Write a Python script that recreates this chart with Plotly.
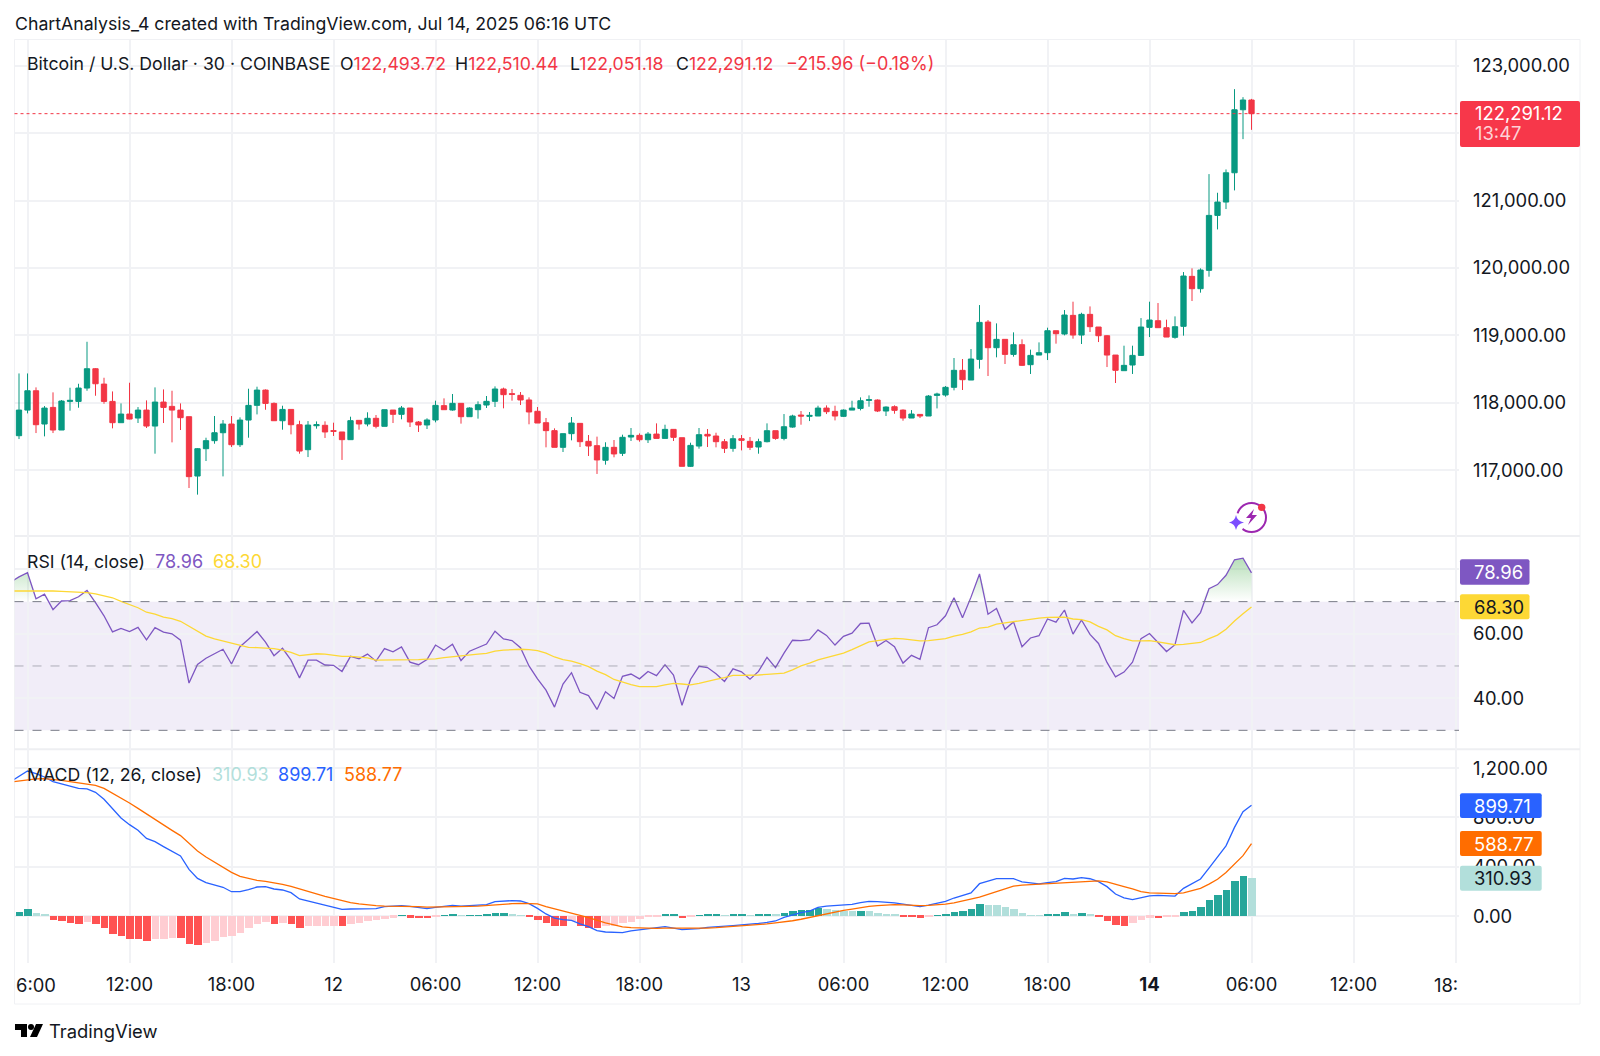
import pandas as pd
import plotly.graph_objects as go

# 30 minute BTCUSD bars, 2025-07-11 05:30 to 2025-07-14 06:00
candle_open = [
    117511, 117891, 118178, 117684, 117931, 117595, 118020, 118020, 118218, 118505, 118277, 118020, 117704, 117832, 117773, 117891, 117654, 118010, 117946, 117891,
    117793, 116912, 117318, 117437, 117555, 117684, 117377, 117743, 117961, 118188, 117990, 117733, 117901, 117674, 117303, 117659,
    117665, 117586, 117566, 117452, 117739, 117685, 117769, 117650, 117892, 117828, 117922, 117714, 117670, 117744, 117957, 117892, 117991, 117793, 117897, 117966, 118021, 118204, 118135, 118110, 118041, 117873, 117704, 117586, 117338, 117541, 117694, 117427, 117363, 117146, 117338, 117249,
    117491, 117516, 117451, 117535, 117471, 117605, 117481, 117056, 117357, 117531, 117506, 117422, 117323, 117466, 117427, 117343, 117422, 117585, 117471, 117639, 117817, 117798, 117803, 117921, 117872, 117798, 117891, 117916, 118035, 118040, 117877, 117941, 117891, 117773, 117827, 117803, 118109,
    118115, 118229, 118481, 118337, 118644, 119198, 118817, 118941, 118718, 118862, 118565, 118708, 118743, 119069, 119020, 119297, 119005, 119312, 119124, 118995, 118708, 118476, 118560, 118703, 119119, 119218, 119114, 118971,
    119134, 119876, 119693, 119965, 120781, 120979, 121414, 122349, 122493.72,
]
candle_high = [
    118435, 118435, 118228, 117951, 118154, 118040, 118223, 118282, 118905, 118515, 118371, 118168, 117990, 118297, 117936, 118035, 118228, 118198, 118178, 117990,
    117793, 117328, 117481, 117803, 117743, 117803, 117783, 118208, 118238, 118198, 118005, 117956, 117901, 117733, 117728, 117723,
    117724, 117704, 117566, 117793, 117739, 117858, 117818, 117897, 117892, 117952, 117922, 117729, 117769, 118031, 118065, 118130, 117991, 117932, 118021, 118100, 118243, 118224, 118204, 118159, 118080, 117937, 117774, 117620, 117541, 117788, 117694, 117521, 117497, 117413, 117447, 117526,
    117625, 117545, 117565, 117694, 117674, 117605, 117481, 117407, 117625, 117610, 117555, 117461, 117521, 117521, 117491, 117466, 117694, 117585, 117832, 117822, 117877, 117862, 117956, 117961, 117956, 117901, 118030, 118080, 118109, 118050, 117946, 117961, 117901, 117891, 117832, 118114, 118149,
    118248, 118664, 118649, 118797, 119450, 119228, 119178, 118941, 119045, 118941, 118788, 118896, 119114, 119069, 119376, 119500, 119336, 119430, 119124, 119005, 118708, 118847, 118847, 119257, 119500, 119480, 119233, 119282,
    119940, 119995, 119995, 121394, 121117, 121463, 122655, 122536, 122510.44,
]
candle_low = [
    117461, 117842, 117550, 117501, 117550, 117595, 117882, 117926, 118178, 118104, 117985, 117620, 117704, 117753, 117699, 117625, 117244, 117699, 117412, 117595,
    116734, 116636, 117135, 117392, 116907, 117343, 117343, 117481, 117827, 117896, 117733, 117600, 117531, 117244, 117194, 117615,
    117477, 117507, 117151, 117452, 117600, 117650, 117620, 117650, 117699, 117754, 117640, 117566, 117610, 117709, 117897, 117882, 117690, 117793, 117764, 117922, 117937, 117917, 118031, 117966, 117680, 117699, 117338, 117338, 117269, 117442, 117343, 117210, 116943, 117081, 117190, 117210,
    117432, 117422, 117402, 117471, 117471, 117432, 117056, 117046, 117318, 117343, 117338, 117254, 117273, 117293, 117298, 117244, 117412, 117451, 117442, 117629, 117674, 117728, 117803, 117832, 117738, 117788, 117891, 117887, 117941, 117862, 117803, 117837, 117733, 117773, 117773, 117803, 117916,
    118090, 118184, 118189, 118337, 118506, 118397, 118674, 118575, 118684, 118545, 118427, 118708, 118634, 118877, 119000, 118951, 118872, 119050, 118901, 118530, 118293, 118476, 118427, 118694, 118975, 119114, 118975, 118951,
    118996, 119510, 119634, 119871, 120573, 120875, 121152, 121913, 122051.18,
]
candle_close = [
    117891, 118178, 117674, 117921, 117595, 118025, 118035, 118218, 118505, 118282, 118020, 117704, 117832, 117758, 117891, 117654, 118010, 117931, 117891, 117778,
    116903, 117318, 117437, 117555, 117684, 117377, 117743, 117961, 118188, 117990, 117733, 117901, 117674, 117283, 117669, 117674,
    117566, 117576, 117452, 117734, 117685, 117769, 117650, 117897, 117828, 117922, 117714, 117670, 117744, 117961, 117897, 117991, 117793, 117922, 117971, 118021, 118204, 118120, 118125, 118041, 117863, 117699, 117586, 117338, 117541, 117699, 117422, 117358, 117151, 117338, 117240, 117487,
    117516, 117451, 117535, 117471, 117605, 117486, 117056, 117367, 117526, 117506, 117422, 117323, 117466, 117442, 117338, 117422, 117585, 117471, 117644, 117803, 117803, 117812, 117921, 117867, 117803, 117891, 117921, 118030, 118045, 117877, 117936, 117887, 117773, 117832, 117803, 118099, 118129,
    118229, 118481, 118342, 118649, 119193, 118817, 118941, 118718, 118862, 118555, 118703, 118743, 119069, 119025, 119302, 119005, 119312, 119129, 118995, 118708, 118481, 118555, 118703, 119124, 119228, 119114, 118975, 119129,
    119881, 119693, 119970, 120781, 120979, 121414, 122349, 122494, 122291.12,
]

# indicators start one bar earlier (05:00), that bar sits just off the left edge
rsi = [
    76.1, 77.7, 79.0, 70.9, 72.3, 67.5, 70.2, 70.3, 71.5, 73.5, 69.7, 65.6, 60.6, 61.7, 60.7, 62.0, 58.1, 61.9, 60.5, 60.0,
    58.0, 44.7, 50.5, 52.4, 53.8, 55.2, 50.6, 56.0, 58.3, 60.7, 57.4, 53.2, 55.5, 51.8, 46.3, 51.8, 51.8, 50.3, 50.2, 48.3,
    53.0, 52.2, 53.7, 51.5, 55.4, 54.4, 55.9, 51.2, 50.4, 52.0, 56.5, 54.9, 56.8, 51.7, 54.6, 55.7, 56.8, 60.8, 58.4, 57.9,
    55.7, 50.0, 46.0, 42.5, 37.2, 44.4, 47.9, 41.8, 40.8, 36.5, 42.0, 39.9, 46.8, 47.5, 46.0, 48.3, 47.0, 50.4, 47.2, 37.8,
    45.8, 49.9, 49.5, 47.6, 45.2, 49.1, 48.2, 45.9, 48.3, 52.7, 49.5, 54.0, 58.0, 57.9, 58.2, 61.2, 59.5, 56.5, 59.2, 60.2,
    63.2, 63.3, 56.2, 57.9, 56.0, 50.9, 53.3, 52.1, 61.9, 62.8, 65.6, 71.2, 65.0, 71.4, 78.6, 66.1, 67.9, 61.4, 63.7, 56.0,
    58.7, 59.4, 64.6, 63.6, 67.4, 59.9, 64.3, 59.8, 57.0, 51.1, 46.6, 48.1, 51.2, 58.5, 60.1, 57.3, 54.5, 56.6, 67.3, 63.4,
    66.6, 74.0, 75.3, 78.2, 83.0, 83.5, 78.96,
]
rsi_ma = [
    73.3, 73.3, 73.5, 73.4, 73.4, 73.3, 73.2, 73.1, 73.0, 72.8, 72.4, 71.8, 71.2, 70.1, 69.2, 68.1, 66.7, 66.1, 65.2, 64.7,
    63.9, 62.4, 60.9, 59.3, 58.4, 57.7, 57.0, 56.3, 55.8, 55.7, 55.6, 55.4, 54.9, 54.2, 53.2, 53.5, 53.8, 53.7, 53.4, 53.0,
    53.0, 52.8, 52.5, 51.8, 51.8, 51.8, 51.9, 51.9, 52.0, 52.1, 52.2, 52.6, 52.9, 53.3, 53.6, 53.7, 53.9, 54.6, 54.9, 55.1,
    55.2, 55.1, 54.8, 54.0, 52.8, 52.0, 51.5, 50.7, 49.8, 48.4, 47.3, 45.8, 44.9, 44.2, 43.6, 43.5, 43.6, 44.1, 44.6, 44.4,
    44.1, 44.6, 45.3, 45.8, 46.4, 47.1, 47.1, 47.1, 47.2, 47.4, 47.6, 47.8, 48.8, 50.0, 50.9, 51.9, 52.6, 53.2, 54.0, 55.1,
    56.2, 57.5, 57.9, 58.3, 58.6, 58.4, 58.1, 57.8, 57.9, 58.1, 58.5, 59.3, 59.8, 60.6, 61.8, 62.1, 63.0, 63.4, 63.8, 64.0,
    64.4, 64.9, 65.1, 65.1, 65.2, 64.6, 64.4, 63.7, 62.3, 61.2, 59.4, 58.5, 57.8, 57.8, 57.9, 57.5, 57.0, 56.6, 56.7, 57.0,
    57.3, 58.5, 59.6, 61.4, 64.0, 66.2, 68.30,
]
macd = [
    1090, 1131, 1176, 1155, 1128, 1090, 1074, 1058, 1036, 1031, 1004, 947, 869, 796, 742, 696, 631, 604, 564, 526,
    488, 380, 307, 272, 251, 235, 199, 199, 216, 237, 240, 221, 213, 191, 140, 124, 110, 92, 73, 56,
    59, 62, 64, 62, 78, 81, 86, 81, 70, 62, 73, 81, 89, 83, 86, 89, 94, 119, 124, 127,
    124, 102, 64, 19, -14, -27, -33, -62, -84, -116, -127, -133, -133, -118, -108, -100, -90, -83, -95, -108,
    -103, -100, -90, -83, -79, -75, -70, -66, -58, -50, -38, -8, 14, 30, 42, 72, 83, 86, 89, 97,
    110, 121, 118, 114, 108, 98, 86, 78, 90, 104, 120, 148, 166, 190, 264, 285, 305, 305, 305, 278,
    268, 262, 272, 280, 307, 302, 313, 304, 280, 240, 180, 150, 135, 150, 165, 170, 168, 164, 226, 265,
    302, 390, 480, 570, 720, 847, 899.71,
]
macd_signal = [
    1087, 1095, 1109, 1112, 1114, 1109, 1101, 1090, 1082, 1071, 1060, 1036, 998, 961, 917, 874, 828, 782, 737, 696,
    653, 588, 529, 480, 437, 396, 356, 324, 305, 291, 283, 272, 259, 243, 221, 199, 181, 162, 143, 124,
    110, 100, 92, 86, 83, 83, 81, 81, 78, 75, 75, 78, 78, 78, 81, 83, 89, 94, 100, 102,
    105, 105, 100, 78, 62, 46, 24, 8, -11, -33, -54, -70, -85, -92, -96, -98, -98, -95, -96, -97,
    -97, -96, -95, -92, -88, -84, -80, -76, -70, -62, -54, -46, -36, -24, -10, 10, 22, 36, 48, 58,
    72, 80, 87, 93, 94, 92, 88, 86, 88, 92, 98, 108, 124, 140, 155, 178, 200, 224, 244, 252,
    256, 260, 262, 266, 270, 275, 280, 284, 286, 278, 262, 240, 222, 200, 190, 186, 183, 183, 189, 205,
    226, 260, 300, 355, 420, 491, 588.77,
]
macd_hist = [
    5, 30, 57, 27, 11, -35, -43, -54, -62, -46, -65, -97, -143, -165, -183, -186, -205, -186, -183, -176,
    -178, -230, -232, -222, -200, -168, -165, -135, -97, -62, -51, -62, -54, -65, -97, -84, -81, -78, -77, -80,
    -65, -57, -38, -35, -22, -16, 6, -14, -19, -20, -5, 8, 9, 6, 7, 8, 11, 22, 23, 19,
    8, -5, -32, -54, -81, -82, -43, -78, -94, -97, -84, -78, -60, -45, -25, -10, -5, 11, 12, -19,
    -5, 3, 11, 12, 5, 11, 12, 5, 11, 19, 18, 27, 40, 49, 51, 65, 59, 45, 43, 41,
    42, 41, 27, 19, 11, -8, -11, -16, -1, 5, 19, 35, 43, 59, 94, 92, 91, 70, 59, 27,
    8, 5, 16, 17, 32, 16, 27, 13, -3, -40, -75, -85, -55, -30, -15, -18, -10, -5, 30, 43,
    70, 129, 170, 213, 283, 321, 310.93,
]

price_ticks = [117000, 118000, 119000, 120000, 121000, 122000, 123000]
rsi_ticks = [40, 60, 80]
macd_ticks = [0, 400, 800, 1200]
time_tick_labels = {
    "2025-07-11 06:00": "", "2025-07-11 12:00": "12:00", "2025-07-11 18:00": "18:00",
    "2025-07-12 00:00": "12", "2025-07-12 06:00": "06:00", "2025-07-12 12:00": "12:00",
    "2025-07-12 18:00": "18:00", "2025-07-13 00:00": "13", "2025-07-13 06:00": "06:00",
    "2025-07-13 12:00": "12:00", "2025-07-13 18:00": "18:00", "2025-07-14 00:00": "<b>14</b>",
    "2025-07-14 06:00": "06:00", "2025-07-14 12:00": "12:00", "2025-07-14 18:00": "",
}

W, H = 1600, 1056
INK = "#131722"
GRID = "#f1f2f5"
GREEN, RED = "#089981", "#F23645"
FONT = "Inter"
LEGEND_SIZE = 17.7
AXIS_SIZE = 18.4


def px(x):
    return x / W


def py(y):
    return 1 - y / H


def pt(x, y):
    return f"{px(x):.5f} {py(y):.5f}"


times = pd.date_range("2025-07-11 05:30", periods=len(candle_close), freq="30min")
ind_times = pd.date_range("2025-07-11 05:00", periods=len(rsi), freq="30min")

# tradingview histogram colouring: dark when the bar grows away from zero
hist_colors = []
prev = macd_hist[0]
for v in macd_hist:
    if v >= 0:
        hist_colors.append("#26A69A" if v >= prev else "#B2DFDB")
    else:
        hist_colors.append("#FFCDD2" if v >= prev else "#FF5252")
    prev = v

fig = go.Figure()
fig.add_trace(go.Candlestick(
    x=times, open=candle_open, high=candle_high, low=candle_low, close=candle_close,
    xaxis="x", yaxis="y", whiskerwidth=0,
    increasing=dict(line=dict(color=GREEN, width=1), fillcolor=GREEN),
    decreasing=dict(line=dict(color=RED, width=1), fillcolor=RED),
))

# rsi overbought area, green fading down to the 70 line
fig.add_trace(go.Scatter(x=ind_times, y=[70] * len(rsi), xaxis="x", yaxis="y2", mode="lines",
                         line=dict(width=0), hoverinfo="skip"))
fig.add_trace(go.Scatter(
    x=ind_times, y=[max(v, 70) for v in rsi], xaxis="x", yaxis="y2", mode="lines",
    line=dict(width=0), fill="tonexty", hoverinfo="skip",
    fillgradient=dict(type="vertical", start=70, stop=84,
                      colorscale=[[0, "rgba(76,175,80,0)"], [1, "rgba(76,175,80,0.42)"]]),
))
fig.add_trace(go.Scatter(x=ind_times, y=rsi, xaxis="x", yaxis="y2", mode="lines",
                         line=dict(color="#7E57C2", width=1.3)))
fig.add_trace(go.Scatter(x=ind_times, y=rsi_ma, xaxis="x", yaxis="y2", mode="lines",
                         line=dict(color="#FDD835", width=1.3)))

fig.add_trace(go.Bar(x=ind_times, y=macd_hist, xaxis="x", yaxis="y3",
                     marker=dict(color=hist_colors, line=dict(width=0)), width=1530000))
fig.add_trace(go.Scatter(x=ind_times, y=macd, xaxis="x", yaxis="y3", mode="lines",
                         line=dict(color="#2962FF", width=1.3)))
fig.add_trace(go.Scatter(x=ind_times, y=macd_signal, xaxis="x", yaxis="y3", mode="lines",
                         line=dict(color="#FF6D00", width=1.3)))

shapes = []
# rsi band and its dashed levels
shapes.append(dict(type="rect", xref="x domain", yref="y2", x0=0, x1=1, y0=30, y1=70,
                   fillcolor="rgba(126,87,194,0.11)", line=dict(width=0), layer="below"))
for level, op in [(70, 1), (50, 0.55), (30, 1)]:
    shapes.append(dict(type="line", xref="x domain", yref="y2", x0=0, x1=1, y0=level, y1=level,
                       line=dict(color="#787B86", width=1, dash="dash"), opacity=op))
shapes.append(dict(type="line", xref="x domain", yref="y3", x0=0, x1=1, y0=0, y1=0,
                   line=dict(color="#787B86", width=1, dash="dot"), opacity=0.6, layer="below"))
# last price
shapes.append(dict(type="line", xref="x domain", yref="y", x0=0, x1=1,
                   y0=candle_close[-1], y1=candle_close[-1],
                   line=dict(color=RED, width=1, dash="dot")))
# chart frame and pane separators
shapes.append(dict(type="rect", xref="paper", yref="paper", x0=px(14.5), x1=px(1580), y0=py(39.5), y1=py(1004),
                   line=dict(color="#f0f1f4", width=1), layer="below"))
for sep in [536, 749.3]:
    shapes.append(dict(type="line", xref="paper", yref="paper", x0=px(14.5), x1=px(1580), y0=py(sep), y1=py(sep),
                       line=dict(color="#eeeff2", width=2), layer="below"))


def rounded(x0, y0, x1, y1, r):
    return (f"M {pt(x0 + r, y0)} L {pt(x1 - r, y0)} Q {pt(x1, y0)} {pt(x1, y0 + r)} "
            f"L {pt(x1, y1 - r)} Q {pt(x1, y1)} {pt(x1 - r, y1)} L {pt(x0 + r, y1)} "
            f"Q {pt(x0, y1)} {pt(x0, y1 - r)} L {pt(x0, y0 + r)} Q {pt(x0, y0)} {pt(x0 + r, y0)} Z")


annotations = []


def text(x, y, s, color=INK, size=LEGEND_SIZE, anchor="left"):
    annotations.append(dict(xref="paper", yref="paper", x=px(x), y=py(y), text=s, showarrow=False,
                            xanchor=anchor, yanchor="middle", borderpad=0,
                            font=dict(family=FONT, size=size, color=color)))


def badge(x1, y0, y1, fill, label, color):
    shapes.append(dict(type="path", xref="paper", yref="paper", path=rounded(1460, y0, x1, y1, 2),
                       fillcolor=fill, line=dict(width=0), layer="above"))
    text(1473, (y0 + y1) / 2, label, color, AXIS_SIZE)


badge(1529.5, 559.3, 584.7, "#7E57C2", f"{rsi[-1]:.2f}", "#ffffff")
badge(1529.5, 594.3, 619.3, "#FDD835", f"{rsi_ma[-1]:.2f}", INK)
badge(1541.7, 793.3, 818, "#2962FF", f"{macd[-1]:.2f}", "#ffffff")
badge(1541.7, 831, 856, "#FF6D00", f"{macd_signal[-1]:.2f}", "#ffffff")
badge(1541.7, 865.7, 890.7, "#B2DFDB", f"{macd_hist[-1]:.2f}", INK)

shapes.append(dict(type="path", xref="paper", yref="paper", path=rounded(1460, 101, 1580, 147, 2),
                   fillcolor="#F7374A", line=dict(width=0), layer="above"))
text(1474, 112.5, f"{candle_close[-1]:,.2f}", "#ffffff", AXIS_SIZE)
text(1474, 133, "13:47", "rgba(255,255,255,0.78)", AXIS_SIZE)

# header and legends
text(14, 24, "ChartAnalysis_4 created with TradingView.com, Jul 14, 2025 06:16 UTC")
text(26, 63, "Bitcoin / U.S. Dollar · 30 · COINBASE")
for x, key, val in [(339, "O", candle_open[-1]), (454, "H", candle_high[-1]),
                    (569, "L", candle_low[-1]), (675, "C", candle_close[-1])]:
    text(x, 63, f'{key}<span style="color:{RED}">{val:,.2f}</span>')
text(785, 63, "−215.96 (−0.18%)", RED, 18)

text(26, 561, "RSI (14, close)")
text(154, 561, f"{rsi[-1]:.2f}", "#7E57C2", 18)
text(212, 561, f"{rsi_ma[-1]:.2f}", "#FDD835", 18)

text(26, 774.5, "MACD (12, 26, close)")
text(211, 774.5, f"{macd_hist[-1]:.2f}", "#B2DFDB", 18)
text(277, 774.5, f"{macd[-1]:.2f}", "#2962FF", 18)
text(343, 774.5, f"{macd_signal[-1]:.2f}", "#FF6D00", 18)

# the two time labels cut off by the pane edges
text(15, 985, "6:00", INK, AXIS_SIZE)
text(1459, 985, "18:", INK, AXIS_SIZE, anchor="right")

# tradingview logo
text(48, 1031, "TradingView", INK, 18.4)
logo = "#000000"
shapes.append(dict(type="path", xref="paper", yref="paper", fillcolor=logo, line=dict(width=0),
                   path=f"M {pt(15, 1024)} L {pt(27, 1024)} L {pt(27, 1037)} L {pt(21, 1037)} L {pt(21, 1030)} L {pt(15, 1030)} Z"))
shapes.append(dict(type="circle", xref="paper", yref="paper", fillcolor=logo, line=dict(width=0),
                   x0=px(28), x1=px(34), y0=py(1024), y1=py(1030)))
shapes.append(dict(type="path", xref="paper", yref="paper", fillcolor=logo, line=dict(width=0),
                   path=f"M {pt(36, 1024)} L {pt(43, 1024)} L {pt(37, 1037)} L {pt(30, 1037)} Z"))

# news icon under the last bar
shapes.append(dict(type="circle", xref="paper", yref="paper", fillcolor="#ffffff",
                   line=dict(color="#9C27B0", width=2),
                   x0=px(1237), x1=px(1266), y0=py(503), y1=py(532)))
shapes.append(dict(type="circle", xref="paper", yref="paper", fillcolor="#ffffff", line=dict(width=0),
                   x0=px(1227), x1=px(1245), y0=py(513), y1=py(532)))
shapes.append(dict(type="path", xref="paper", yref="paper", fillcolor="#7C4DFF", line=dict(width=0),
                   path=f"M {pt(1236, 515)} Q {pt(1237, 521)} {pt(1244, 522.5)} Q {pt(1237, 524)} {pt(1236, 530)} "
                        f"Q {pt(1235, 524)} {pt(1229, 522.5)} Q {pt(1235, 521)} {pt(1236, 515)} Z"))
shapes.append(dict(type="path", xref="paper", yref="paper", fillcolor="#9C27B0", line=dict(width=0),
                   path=f"M {pt(1254, 509)} L {pt(1246, 518)} L {pt(1251, 518)} L {pt(1248, 525)} L {pt(1257, 515)} L {pt(1252, 515)} Z"))
shapes.append(dict(type="circle", xref="paper", yref="paper", fillcolor=RED, line=dict(width=0),
                   x0=px(1258), x1=px(1265.4), y0=py(503.7), y1=py(511)))

y_common = dict(side="right", anchor="x", showline=False, zeroline=False, gridcolor=GRID, gridwidth=1.5,
                ticks="", ticklen=0, ticklabelstandoff=13, tickformat=",.2f", tickmode="array",
                tickfont=dict(family=FONT, size=AXIS_SIZE, color=INK), fixedrange=True)

fig.update_layout(
    width=W, height=H, autosize=False,
    margin=dict(l=0, r=0, t=0, b=0),
    paper_bgcolor="#ffffff", plot_bgcolor="#ffffff",
    showlegend=False, dragmode=False, bargap=0,
    boxgap=0.25, boxgroupgap=0.17,
    xaxis=dict(
        type="date", domain=[px(14.5), px(1459)], anchor="y3",
        range=["2025-07-11 05:14:07", "2025-07-14 18:12:21"],
        rangeslider=dict(visible=False),
        tickmode="array", tickvals=list(time_tick_labels), ticktext=list(time_tick_labels.values()),
        showline=False, gridcolor=GRID, gridwidth=1.5, ticks="", ticklen=0, ticklabelstandoff=9,
        tickfont=dict(family=FONT, size=AXIS_SIZE, color=INK), tickangle=0,
    ),
    yaxis=dict(domain=[py(536), py(39.5)], range=[116022, 123392], tickvals=price_ticks, **y_common),
    yaxis2=dict(domain=[py(749.3), py(536)], range=[24.1, 90.4], tickvals=rsi_ticks, **y_common),
    yaxis3=dict(domain=[py(962.7), py(749.3)], range=[-375.7, 1352], tickvals=macd_ticks, **y_common),
    shapes=shapes, annotations=annotations,
    font=dict(family=FONT, color=INK),
)

fig.write_html("out.html", config=dict(displayModeBar=False),
               post_script="document.body.style.margin='0';")
